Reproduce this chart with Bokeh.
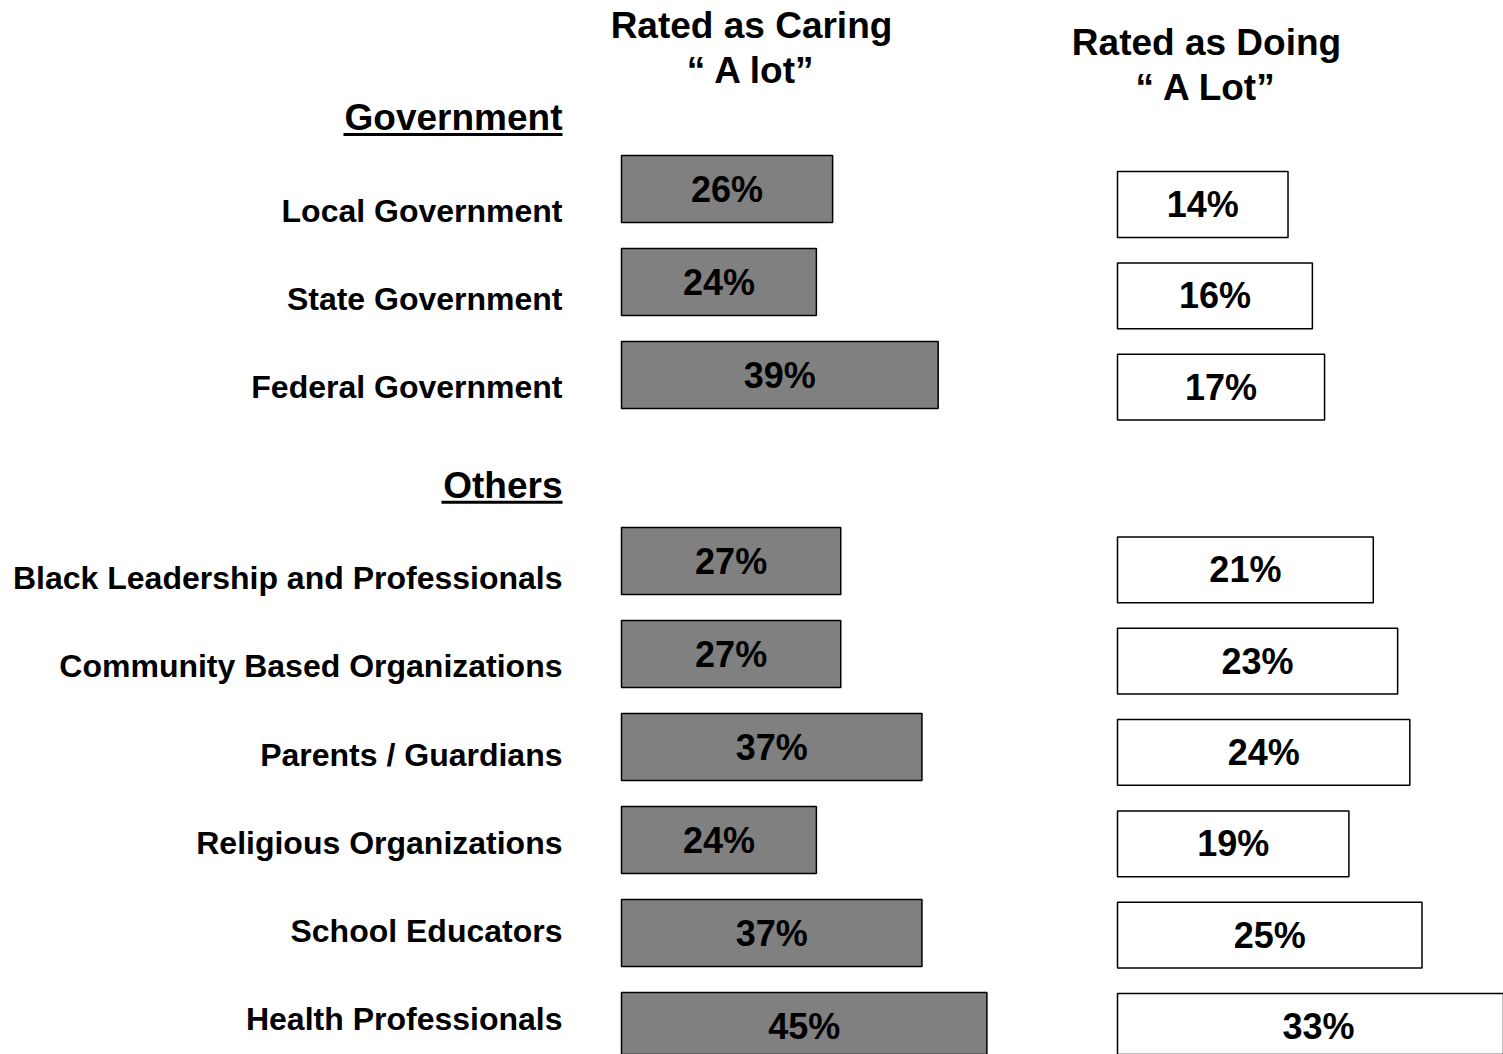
from bokeh.plotting import figure
from bokeh.models import Range1d, ColumnDataSource
from bokeh.core.properties import value
from bokeh.embed import file_html
from bokeh.resources import INLINE

# ---------------- data ----------------
groups = ["Government", "Others"]
gov_items = ["Local Government", "State Government", "Federal Government"]
gov_caring = [26, 24, 39]
gov_doing = [14, 16, 17]
oth_items = ["Black Leadership and Professionals", "Community Based Organizations",
             "Parents / Guardians", "Religious Organizations", "School Educators",
             "Health Professionals"]
oth_caring = [27, 27, 37, 24, 37, 45]
oth_doing = [21, 23, 24, 19, 25, 33]
col_titles = [["Rated as Caring", "\u201c A lot\u201d"], ["Rated as Doing", "\u201c A Lot\u201d"]]

# ---------------- layout / style ----------------
FONT = value("Liberation Sans")
W, H = 1503, 1054
# column geometry (pixels): left edge of bars, pixels per percent, first row centre, row step
C_LEFT, C_PPU, C_ROW0, C_STEP = 621, 8.12, 188.5, 93.0
D_LEFT, D_PPU, D_ROW0, D_STEP = 1117, 12.18, 204.0, 91.33
GAP_BAR = 1.0      # empty row between the two groups (bars)
GAP_LBL = 1.17     # gap between groups for the category labels
LBL_X = 562        # right edge of category labels (page px)
LBL_TOP, LBL_STEP = 210, 88.2
HEAD_UP = 93
UNDERLINE_W = [219, 121]

items = gov_items + oth_items
caring = gov_caring + oth_caring
doing = gov_doing + oth_doing
n_gov = len(gov_items)
bar_row = [i if i < n_gov else i + GAP_BAR for i in range(len(items))]
lbl_row = [i if i < n_gov else i + GAP_LBL for i in range(len(items))]
lbl_y = [LBL_TOP + LBL_STEP * r for r in lbl_row]

src = ColumnDataSource(dict(
    item=items, row=bar_row, caring=caring, doing=doing,
    caring_mid=[v / 2 for v in caring], doing_mid=[v / 2 for v in doing],
    caring_lbl=[f"{v}%" for v in caring], doing_lbl=[f"{v}%" for v in doing],
    lbl_y=lbl_y, lbl_x=[LBL_X] * len(items),
))


def xr(left, ppu):
    return Range1d(-left / ppu, (W - left) / ppu)


def yr(row0, step):
    return Range1d((H - row0) / step, -row0 / step)


p = figure(width=W, height=H, output_backend="svg", toolbar_location=None,
           x_range=xr(C_LEFT, C_PPU), y_range=yr(C_ROW0, C_STEP),
           x_axis_location=None, y_axis_location=None, min_border=0,
           outline_line_color=None, background_fill_color="white",
           border_fill_color="white")
p.grid.visible = False
p.extra_x_ranges = {"doing": xr(D_LEFT, D_PPU), "px": Range1d(0, W)}
p.extra_y_ranges = {"doing_rows": yr(D_ROW0, D_STEP), "py": Range1d(H, 0)}

# caring bars (grey)
p.hbar(y="row", left=0, right="caring", height=0.72, source=src,
       fill_color="#808080", line_color="#000000", line_width=1.5)
p.text(x="caring_mid", y="row", text="caring_lbl", source=src,
       text_align="center", text_baseline="middle", text_font=FONT,
       text_font_style="bold", text_font_size="36px", text_color="black")

# doing bars (white)
p.hbar(y="row", left=0, right="doing", height=0.72, source=src,
       x_range_name="doing", y_range_name="doing_rows",
       fill_color="white", line_color="#000000", line_width=1.5)
p.text(x="doing_mid", y="row", text="doing_lbl", source=src,
       x_range_name="doing", y_range_name="doing_rows",
       text_align="center", text_baseline="middle", text_font=FONT,
       text_font_style="bold", text_font_size="36px", text_color="black")

# category labels
p.text(x="lbl_x", y="lbl_y", text="item", source=src,
       x_range_name="px", y_range_name="py",
       text_align="right", text_baseline="middle", text_font=FONT,
       text_font_style="bold", text_font_size="32px", text_color="black")

# group headings, underlined
firsts = [0, n_gov]
head_y = [lbl_y[i] - HEAD_UP for i in firsts]
p.text(x=[LBL_X] * 2, y=head_y, text=groups, x_range_name="px", y_range_name="py",
       text_align="right", text_baseline="middle", text_font=FONT,
       text_font_style="bold", text_font_size="37px", text_color="black")
p.segment(x0=[LBL_X - w for w in UNDERLINE_W], x1=[LBL_X] * 2,
          y0=[y + 17 for y in head_y], y1=[y + 17 for y in head_y],
          x_range_name="px", y_range_name="py", line_color="black", line_width=3)

# column titles
title_x = [751, 1206]
title_y = [25.0, 42.0]
for (l1, l2), tx, ty in zip(col_titles, title_x, title_y):
    p.text(x=[tx, tx], y=[ty, ty + 45], text=[l1, l2], x_range_name="px", y_range_name="py",
           text_align="center", text_baseline="middle", text_font=FONT,
           text_font_style="bold", text_font_size="37px", text_color="black")

open("out.html", "w").write(file_html(p, INLINE))
